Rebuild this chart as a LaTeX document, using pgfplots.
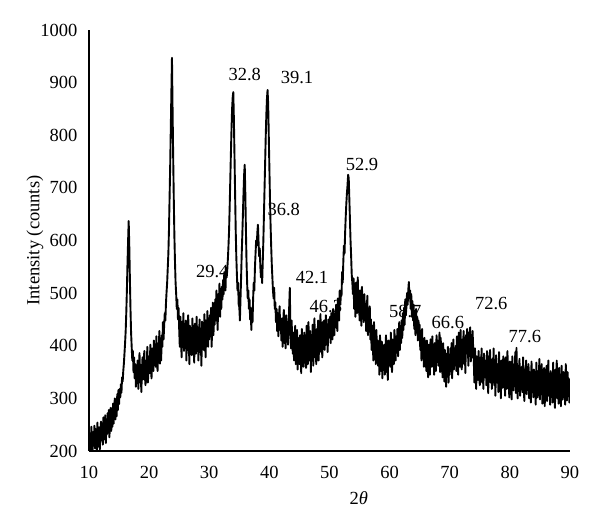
\documentclass[border=0pt]{standalone}
\usepackage{pgfplots}
\pgfplotsset{compat=1.18}
\usepackage{fontspec}
\setmainfont{Liberation Serif}

\begin{document}
\fontsize{9.25}{11}\selectfont
\begin{tikzpicture}

% --- XRD pattern ---
\begin{axis}[
    at={(0,0)}, anchor=south west,
    scale only axis,
    width=240.5pt, height=210.5pt,
    xmin=10, xmax=90,
    ymin=200, ymax=1000,
    axis lines=left,
    axis line style={-, line width=0.6pt},
    tick style={draw=none},
    xtick={10,20,...,90},
    ytick={200,300,...,1000},
    /pgf/number format/assume math mode=true,
    /pgf/number format/1000 sep={},
    xticklabel style={anchor=center, inner sep=0pt, yshift=-8.5pt},
    yticklabel style={anchor=east, inner sep=0pt, xshift=-3.5pt},
    xlabel={2\textit{θ}},
    ylabel={Intensity (counts)},
    xlabel style={at={(axis description cs:0.561,-0.1116)}, anchor=center, inner sep=0pt},
    ylabel style={at={(axis description cs:-0.1123,0.5)}, anchor=center, inner sep=0pt},
]

\addplot[black, line width=0.95pt, line join=round, mark=none] coordinates {
(10.0,238)(10.1,206)(10.2,230)(10.3,201)(10.4,246)(10.5,214)(10.6,203)(10.7,236)(10.8,210)(10.9,248)
(11.0,205)(11.1,242)(11.2,218)(11.3,201)(11.4,254)(11.5,222)(11.6,208)(11.7,245)(11.8,203)(11.9,236)
(12.0,256)(12.1,220)(12.2,248)(12.3,212)(12.4,264)(12.5,230)(12.6,222)(12.7,268)(12.8,215)(12.9,252)
(13.0,232)(13.1,272)(13.2,244)(13.3,278)(13.4,226)(13.5,262)(13.6,282)(13.7,238)(13.8,268)(13.9,246)
(14.0,290)(14.1,252)(14.2,284)(14.3,300)(14.4,260)(14.5,294)(14.6,266)(14.7,308)(14.8,278)(14.9,316)
(15.0,289)(15.1,318)(15.2,302)(15.3,327)(15.4,311)(15.5,340)(15.6,332)(15.7,352)(15.8,366)(15.9,385)
(16.0,405)(16.1,428)(16.2,462)(16.3,505)(16.4,555)(16.5,598)(16.6,637)(16.7,590)(16.8,528)(16.9,470)
(17.0,425)(17.1,398)(17.2,372)(17.3,390)(17.4,350)(17.5,378)(17.6,338)(17.7,365)(17.8,322)(17.9,360)
(18.0,345)(18.1,372)(18.2,318)(18.3,356)(18.4,386)(18.5,330)(18.6,364)(18.7,312)(18.8,350)(18.9,378)
(19.0,336)(19.1,368)(19.2,390)(19.3,342)(19.4,325)(19.5,372)(19.6,355)(19.7,398)(19.8,330)(19.9,362)
(20.0,380)(20.1,348)(20.2,402)(20.3,360)(20.4,338)(20.5,395)(20.6,372)(20.7,352)(20.8,410)(20.9,366)
(21.0,392)(21.1,360)(21.2,418)(21.3,375)(21.4,352)(21.5,405)(21.6,388)(21.7,428)(21.8,366)(21.9,396)
(22.0,372)(22.1,420)(22.2,398)(22.3,445)(22.4,412)(22.5,438)(22.6,462)(22.7,448)(22.8,480)(22.9,502)
(23.0,520)(23.1,548)(23.2,575)(23.3,620)(23.4,680)(23.5,740)(23.6,810)(23.7,880)(23.8,947)(23.9,850)
(24.0,760)(24.1,680)(24.2,610)(24.3,560)(24.4,520)(24.5,498)(24.6,470)(24.7,488)(24.8,450)(24.9,472)
(25.0,432)(25.1,398)(25.2,455)(25.3,420)(25.4,378)(25.5,446)(25.6,412)(25.7,462)(25.8,390)(25.9,428)
(26.0,405)(26.1,448)(26.2,372)(26.3,425)(26.4,392)(26.5,458)(26.6,410)(26.7,365)(26.8,438)(26.9,400)
(27.0,418)(27.1,382)(27.2,452)(27.3,395)(27.4,430)(27.5,368)(27.6,442)(27.7,408)(27.8,385)(27.9,455)
(28.0,398)(28.1,435)(28.2,372)(28.3,420)(28.4,450)(28.5,388)(28.6,412)(28.7,362)(28.8,446)(28.9,405)
(29.0,428)(29.1,392)(29.2,460)(29.3,410)(29.4,378)(29.5,448)(29.6,420)(29.7,466)(29.8,398)(29.9,436)
(30.0,412)(30.1,458)(30.2,430)(30.3,472)(30.4,398)(30.5,445)(30.6,482)(30.7,420)(30.8,462)(30.9,440)
(31.0,488)(31.1,448)(31.2,505)(31.3,462)(31.4,430)(31.5,498)(31.6,475)(31.7,518)(31.8,455)(31.9,492)
(32.0,470)(32.1,512)(32.2,488)(32.3,525)(32.4,498)(32.5,540)(32.6,515)(32.7,505)(32.8,548)(32.9,530)
(33.0,545)(33.1,565)(33.2,590)(33.3,620)(33.4,665)(33.5,715)(33.6,765)(33.7,810)(33.8,850)(33.9,872)
(34.0,882)(34.1,830)(34.2,760)(34.3,690)(34.4,620)(34.5,570)(34.6,535)(34.7,505)(34.8,520)(34.9,478)
(35.0,474)(35.1,448)(35.2,490)(35.3,530)(35.4,575)(35.5,610)(35.6,650)(35.7,690)(35.8,725)(35.9,744)
(36.0,690)(36.1,620)(36.2,560)(36.3,520)(36.4,490)(36.5,505)(36.6,470)(36.7,488)(36.8,450)(36.9,472)
(37.0,430)(37.1,465)(37.2,445)(37.3,490)(37.4,520)(37.5,505)(37.6,548)(37.7,575)(37.8,600)(37.9,590)
(38.0,615)(38.1,630)(38.2,598)(38.3,570)(38.4,585)(38.5,550)(38.6,530)(38.7,545)(38.8,519)(38.9,560)
(39.0,600)(39.1,650)(39.2,700)(39.3,750)(39.4,800)(39.5,840)(39.6,870)(39.7,886)(39.8,860)(39.9,800)
(40.0,740)(40.1,680)(40.2,630)(40.3,590)(40.4,555)(40.5,530)(40.6,505)(40.7,490)(40.8,510)(40.9,470)
(41.0,482)(41.1,445)(41.2,470)(41.3,428)(41.4,462)(41.5,418)(41.6,455)(41.7,475)(41.8,430)(41.9,448)
(42.0,410)(42.1,452)(42.2,398)(42.3,440)(42.4,468)(42.5,405)(42.6,432)(42.7,395)(42.8,458)(42.9,420)
(43.0,445)(43.1,402)(43.2,438)(43.3,475)(43.4,510)(43.5,430)(43.6,395)(43.7,448)(43.8,412)(43.9,385)
(44.0,425)(44.1,372)(44.2,410)(44.3,438)(44.4,365)(44.5,398)(44.6,430)(44.7,355)(44.8,415)(44.9,392)
(45.0,365)(45.1,420)(45.2,388)(45.3,348)(45.4,432)(45.5,378)(45.6,405)(45.7,360)(45.8,425)(45.9,392)
(46.0,410)(46.1,358)(46.2,438)(46.3,382)(46.4,365)(46.5,445)(46.6,395)(46.7,372)(46.8,428)(46.9,350)
(47.0,418)(47.1,385)(47.2,440)(47.3,362)(47.4,412)(47.5,452)(47.6,378)(47.7,402)(47.8,365)(47.9,432)
(48.0,395)(48.1,448)(48.2,372)(48.3,425)(48.4,405)(48.5,460)(48.6,388)(48.7,420)(48.8,378)(48.9,445)
(49.0,405)(49.1,448)(49.2,392)(49.3,432)(49.4,458)(49.5,402)(49.6,425)(49.7,388)(49.8,450)(49.9,415)
(50.0,425)(50.1,455)(50.2,405)(50.3,462)(50.4,430)(50.5,412)(50.6,470)(50.7,440)(50.8,420)(50.9,462)
(51.0,435)(51.1,478)(51.2,450)(51.3,428)(51.4,490)(51.5,460)(51.6,448)(51.7,505)(51.8,478)(51.9,498)
(52.0,495)(52.1,540)(52.2,520)(52.3,560)(52.4,590)(52.5,575)(52.6,615)(52.7,645)(52.8,670)(52.9,690)
(53.0,705)(53.1,725)(53.2,718)(53.3,680)(53.4,640)(53.5,600)(53.6,570)(53.7,535)(53.8,520)(53.9,498)
(54.0,528)(54.1,470)(54.2,512)(54.3,455)(54.4,520)(54.5,488)(54.6,462)(54.7,530)(54.8,478)(54.9,505)
(55.0,448)(55.1,505)(55.2,470)(55.3,438)(55.4,512)(55.5,462)(55.6,490)(55.7,445)(55.8,498)(55.9,458)
(56.0,480)(56.1,428)(56.2,468)(56.3,495)(56.4,420)(56.5,458)(56.6,435)(56.7,475)(56.8,412)(56.9,450)
(57.0,392)(57.1,438)(57.2,405)(57.3,372)(57.4,445)(57.5,398)(57.6,420)(57.7,365)(57.8,430)(57.9,388)
(58.0,410)(58.1,362)(58.2,398)(58.3,345)(58.4,420)(58.5,375)(58.6,352)(58.7,408)(58.8,338)(58.9,395)
(59.0,358)(59.1,402)(59.2,345)(59.3,388)(59.4,420)(59.5,350)(59.6,372)(59.7,335)(59.8,410)(59.9,380)
(60.0,402)(60.1,360)(60.2,425)(60.3,378)(60.4,350)(60.5,412)(60.6,388)(60.7,365)(60.8,430)(60.9,395)
(61.0,372)(61.1,418)(61.2,395)(61.3,432)(61.4,380)(61.5,410)(61.6,445)(61.7,392)(61.8,425)(61.9,405)
(62.0,448)(62.1,415)(62.2,462)(62.3,430)(62.4,472)(62.5,440)(62.6,488)(62.7,458)(62.8,475)(62.9,500)
(63.0,478)(63.1,505)(63.2,521)(63.3,490)(63.4,505)(63.5,470)(63.6,498)(63.7,455)(63.8,485)(63.9,448)
(64.0,478)(64.1,432)(64.2,465)(64.3,420)(64.4,470)(64.5,438)(64.6,455)(64.7,410)(64.8,448)(64.9,425)
(65.0,440)(65.1,392)(65.2,420)(65.3,372)(65.4,432)(65.5,385)(65.6,405)(65.7,360)(65.8,415)(65.9,378)
(66.0,395)(66.1,352)(66.2,410)(66.3,368)(66.4,340)(66.5,402)(66.6,375)(66.7,345)(66.8,412)(66.9,385)
(67.0,360)(67.1,418)(67.2,372)(67.3,395)(67.4,345)(67.5,405)(67.6,380)(67.7,352)(67.8,420)(67.9,390)
(68.0,410)(68.1,362)(68.2,395)(68.3,425)(68.4,350)(68.5,415)(68.6,372)(68.7,398)(68.8,340)(68.9,405)
(69.0,375)(69.1,332)(69.2,392)(69.3,348)(69.4,322)(69.5,385)(69.6,355)(69.7,398)(69.8,330)(69.9,370)
(70.0,345)(70.1,395)(70.2,360)(70.3,405)(70.4,338)(70.5,382)(70.6,412)(70.7,355)(70.8,390)(70.9,365)
(71.0,400)(71.1,352)(71.2,418)(71.3,375)(71.4,345)(71.5,425)(71.6,388)(71.7,360)(71.8,430)(71.9,372)
(72.0,355)(72.1,412)(72.2,380)(72.3,428)(72.4,365)(72.5,398)(72.6,348)(72.7,420)(72.8,385)(72.9,432)
(73.0,410)(73.1,362)(73.2,425)(73.3,385)(73.4,435)(73.5,370)(73.6,405)(73.7,378)(73.8,428)(73.9,395)
(74.0,372)(74.1,330)(74.2,395)(74.3,345)(74.4,318)(74.5,380)(74.6,355)(74.7,335)(74.8,390)(74.9,342)
(75.0,325)(75.1,378)(75.2,350)(75.3,395)(75.4,330)(75.5,365)(75.6,318)(75.7,385)(75.8,352)(75.9,340)
(76.0,372)(76.1,325)(76.2,390)(76.3,348)(76.4,310)(76.5,380)(76.6,355)(76.7,392)(76.8,330)(76.9,365)
(77.0,318)(77.1,375)(77.2,340)(77.3,395)(77.4,325)(77.5,360)(77.6,305)(77.7,382)(77.8,348)(77.9,330)
(78.0,365)(78.1,312)(78.2,388)(78.3,335)(78.4,350)(78.5,300)(78.6,372)(78.7,342)(78.8,320)(78.9,380)
(79.0,330)(79.1,362)(79.2,305)(79.3,378)(79.4,345)(79.5,318)(79.6,390)(79.7,335)(79.8,358)(79.9,302)
(80.0,370)(80.1,325)(80.2,352)(80.3,298)(80.4,380)(80.5,340)(80.6,315)(80.7,365)(80.8,335)(80.9,388)
(81.0,310)(81.1,396)(81.2,342)(81.3,300)(81.4,362)(81.5,328)(81.6,375)(81.7,305)(81.8,350)(81.9,332)
(82.0,360)(82.1,312)(82.2,378)(82.3,335)(82.4,295)(82.5,355)(82.6,325)(82.7,372)(82.8,308)(82.9,345)
(83.0,322)(83.1,365)(83.2,300)(83.3,350)(83.4,338)(83.5,292)(83.6,370)(83.7,318)(83.8,345)(83.9,302)
(84.0,355)(84.1,310)(84.2,340)(84.3,288)(84.4,368)(84.5,325)(84.6,302)(84.7,352)(84.8,318)(84.9,375)
(85.0,298)(85.1,345)(85.2,320)(85.3,365)(85.4,290)(85.5,338)(85.6,310)(85.7,358)(85.8,285)(85.9,342)
(86.0,318)(86.1,362)(86.2,295)(86.3,340)(86.4,372)(86.5,305)(86.6,335)(86.7,288)(86.8,352)(86.9,322)
(87.0,345)(87.1,292)(87.2,368)(87.3,315)(87.4,338)(87.5,282)(87.6,355)(87.7,325)(87.8,372)(87.9,300)
(88.0,332)(88.1,290)(88.2,358)(88.3,310)(88.4,345)(88.5,285)(88.6,362)(88.7,318)(88.8,298)(88.9,350)
(89.0,305)(89.1,342)(89.2,288)(89.3,365)(89.4,318)(89.5,296)(89.6,350)(89.7,312)(89.8,338)(89.9,292)
(90.0,320)
};

% Peak labels
\node[inner sep=0pt] at (axis cs:35.9,915) {32.8};
\node[inner sep=0pt] at (axis cs:44.6,909) {39.1};
\node[inner sep=0pt] at (axis cs:42.4,658) {36.8};
\node[inner sep=0pt] at (axis cs:30.5,542) {29.4};
\node[inner sep=0pt] at (axis cs:47.1,529) {42.1};
\node[inner sep=0pt] at (axis cs:49.4,474) {46.3};
\node[inner sep=0pt] at (axis cs:55.4,745) {52.9};
\node[inner sep=0pt] at (axis cs:62.6,466) {58.7};
\node[inner sep=0pt] at (axis cs:69.7,445) {66.6};
\node[inner sep=0pt] at (axis cs:76.9,481) {72.6};
\node[inner sep=0pt] at (axis cs:82.5,417) {77.6};

\end{axis}

\pgfresetboundingbox
\path[use as bounding box] (-44.5pt,-39.5pt) rectangle (255.5pt,225.5pt);

\end{tikzpicture}
\end{document}
